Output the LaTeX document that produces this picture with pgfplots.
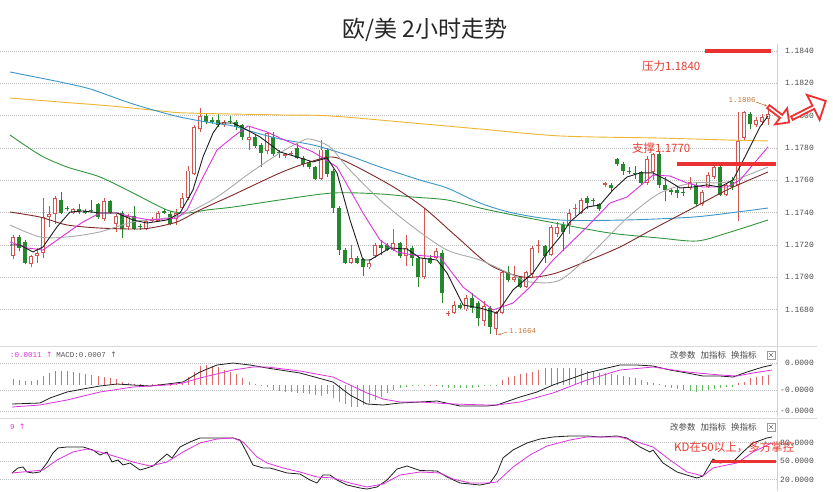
\documentclass[border=0pt]{standalone}
\usepackage{fontspec}
\usepackage{pgfplots}
\usepackage{pgfplotstable}
\pgfplotsset{compat=1.18}
\usetikzlibrary{shapes.arrows,arrows.meta}
\setmainfont{Liberation Sans}
\setmonofont{Liberation Mono}
\newfontfamily\cjk{Noto Sans CJK SC}
\newfontfamily\dv{DejaVu Sans}
\definecolor{upc}{RGB}{210,85,80}
\definecolor{dnc}{RGB}{38,135,45}
\definecolor{ma5}{RGB}{30,30,30}
\definecolor{mag}{RGB}{220,50,220}
\definecolor{ma20}{RGB}{170,170,170}
\definecolor{ma30}{RGB}{130,40,40}
\definecolor{ma60}{RGB}{60,150,200}
\definecolor{ma120}{RGB}{240,180,50}
\definecolor{magr}{RGB}{50,150,60}
\definecolor{hred}{RGB}{225,105,105}
\definecolor{hgrn}{RGB}{95,185,95}
\definecolor{annred}{RGB}{230,60,50}
\definecolor{linered}{RGB}{235,50,50}
\definecolor{lblor}{RGB}{205,120,55}

\pgfplotstableread{
x t o h l c
13 1 1.1713 1.1726 1.1711 1.1725
19 0 1.1725 1.1726 1.1716 1.1718
25 0 1.1722 1.1723 1.1708 1.1709
31 1 1.1708 1.1714 1.1706 1.1713
37 1 1.1713 1.1718 1.1709 1.1715
43 1 1.1715 1.1749 1.1712 1.1737
49 1 1.1737 1.1744 1.1731 1.1739
55 1 1.1739 1.1750 1.1733 1.1749
61 0 1.1748 1.1753 1.1739 1.1740
67 0 1.1743 1.1744 1.1741 1.1742
73 1 1.1740 1.1743 1.1739 1.1742
79 0 1.1742 1.1745 1.1739 1.1741
85 0 1.1741 1.1742 1.1739 1.1740
91 0 1.17415 1.1748 1.1740 1.1741
98 0 1.1745 1.1746 1.1736 1.1737
104 1 1.1736 1.1749 1.1735 1.1747
110 0 1.1747 1.1748 1.1739 1.1740
116 1 1.1733 1.1739 1.1728 1.1738
122 0 1.1740 1.1741 1.1724 1.1730
128 1 1.1731 1.1739 1.1729 1.1738
134 0 1.1738 1.1744 1.1729 1.1730
140 0 1.17315 1.1733 1.1729 1.1731
146 1 1.1730 1.1736 1.1729 1.1735
152 1 1.1735 1.1737 1.1734 1.1736
158 1 1.1735 1.1741 1.1734 1.1740
164 0 1.1741 1.1742 1.1739 1.1740
170 0 1.1739 1.1741 1.1732 1.1733
176 1 1.1736 1.1742 1.1732 1.1740
182 1 1.1743 1.1752 1.1742 1.1749
188 1 1.1749 1.1769 1.1748 1.1766
194 1 1.1764 1.1794 1.1763 1.1793
200 1 1.1792 1.1805 1.1790 1.1800
206 0 1.1800 1.1801 1.1795 1.1796
212 0 1.1797 1.1799 1.1795 1.1796
218 0 1.1797 1.1801 1.1793 1.1794
224 1 1.1794 1.1797 1.1793 1.1796
230 0 1.17965 1.1800 1.1795 1.1796
236 0 1.1796 1.1797 1.1791 1.1793
242 0 1.1794 1.1795 1.1785 1.1787
249 1 1.1785 1.1793 1.1779 1.1787
255 0 1.1787 1.1788 1.1780 1.1781
261 0 1.1782 1.1783 1.1768 1.1777
267 1 1.1778 1.1790 1.1776 1.1789
273 0 1.1787 1.1790 1.1775 1.1776
279 0 1.17775 1.1779 1.1774 1.1777
285 1 1.1775 1.1777 1.1774 1.1776
291 1 1.1776 1.1778 1.1775 1.1777
297 0 1.1780 1.1783 1.1773 1.1774
303 0 1.1774 1.1775 1.1768 1.1770
309 0 1.1771 1.1772 1.1767 1.1768
315 0 1.1768 1.1769 1.1760 1.1761
321 1 1.1761 1.1785 1.1760 1.1779
327 0 1.1779 1.1780 1.1762 1.1764
333 0 1.1766 1.1767 1.1740 1.1743
339 0 1.1743 1.1744 1.1714 1.1717
345 0 1.1717 1.1718 1.1708 1.1709
351 1 1.1709 1.1720 1.1708 1.1712
357 0 1.1712 1.1713 1.1708 1.1709
363 0 1.1711 1.1712 1.1701 1.1706
369 1 1.1706 1.1711 1.1705 1.1709
375 1 1.1713 1.1721 1.1712 1.1720
381 0 1.1720 1.1723 1.1714 1.1718
387 0 1.1720 1.1721 1.1716 1.1717
393 1 1.1717 1.1730 1.1716 1.1721
400 0 1.1721 1.1722 1.1712 1.1713
406 1 1.1713 1.1726 1.1707 1.1718
412 0 1.1718 1.1719 1.1707 1.1712
418 0 1.1712 1.1713 1.1694 1.1700
424 1 1.1700 1.1743 1.1699 1.1712
430 0 1.1712 1.1714 1.1708 1.1709
436 1 1.1712 1.1718 1.1711 1.1716
442 0 1.1715 1.1717 1.1684 1.1690
448 1 1.1677 1.1679 1.1676 1.1678
454 1 1.1678 1.1685 1.1677 1.1683
460 0 1.1683 1.1684 1.1680 1.1681
466 1 1.1680 1.1689 1.1679 1.1687
472 0 1.1687 1.1690 1.1678 1.1681
478 0 1.1684 1.1685 1.1670 1.1675
484 1 1.1673 1.1685 1.1670 1.1682
490 0 1.1681 1.1682 1.1665 1.1669
496 1 1.1668 1.1679 1.1664 1.1678
502 1 1.1678 1.1704 1.1677 1.1703
508 0 1.1703 1.1707 1.1697 1.1698
514 1 1.1698 1.1707 1.1697 1.1700
520 0 1.1700 1.1701 1.1693 1.1694
526 1 1.1694 1.1704 1.1693 1.1703
532 1 1.1702 1.1719 1.1700 1.1718
538 1 1.1719 1.1723 1.1715 1.1720
545 0 1.1719 1.1720 1.1709 1.1713
551 1 1.1714 1.1732 1.1713 1.1731
557 1 1.1727 1.1734 1.1725 1.1731
563 0 1.1732 1.1734 1.1716 1.1728
569 1 1.1732 1.1742 1.1727 1.1740
575 1 1.1742 1.1745 1.1738 1.1743
581 1 1.1740 1.1749 1.1739 1.1748
587 0 1.1749 1.1750 1.1742 1.1746
593 0 1.17475 1.1749 1.1744 1.1747
599 0 1.1745 1.1746 1.1741 1.1742
605 1 1.1757 1.1759 1.1756 1.1758
611 0 1.1757 1.1758 1.1753 1.1755
617 0 1.1773 1.1774 1.1769 1.1770
623 0 1.1770 1.1771 1.1763 1.1766
629 0 1.1766 1.1768 1.1764 1.1765
635 0 1.17645 1.1769 1.1761 1.1764
641 0 1.1765 1.1766 1.1757 1.1758
647 1 1.1758 1.1775 1.1757 1.1773
653 1 1.1765 1.1777 1.1760 1.1776
659 0 1.1776 1.1778 1.1755 1.1757
665 0 1.1757 1.1762 1.1747 1.1754
671 0 1.1754 1.1755 1.1751 1.1753
677 0 1.1754 1.1756 1.1749 1.1752
683 0 1.1753 1.1755 1.1750 1.1752
690 1 1.1755 1.1762 1.1754 1.1759
696 0 1.1757 1.1759 1.1744 1.1745
702 1 1.1745 1.1754 1.1744 1.1753
708 1 1.1756 1.1765 1.1755 1.1763
714 1 1.1762 1.1770 1.1761 1.1768
720 0 1.1768 1.1771 1.1750 1.1751
726 1 1.1751 1.1758 1.1750 1.1757
732 0 1.1759 1.1762 1.1754 1.1756
738 1 1.1757 1.1802 1.1735 1.1784
744 1 1.1786 1.1803 1.1785 1.1802
750 0 1.1801 1.1802 1.1792 1.1795
756 1 1.1794 1.1799 1.1793 1.1797
762 1 1.1796 1.1801 1.1794 1.1799
768 1 1.1798 1.1806 1.1794 1.1801
}\candles

\pgfplotsset{panel/.style={scale only axis, width=777pt, xmin=0, xmax=777,
  hide x axis, axis y line*=right, y axis line style={draw=black!18, line width=0.8pt},
  major tick length=0pt, ymajorgrids,
  grid style={dash pattern=on 0.8pt off 1.2pt, black!25, line width=0.7pt},
  yticklabel style={font=\ttfamily\fontsize{8}{8}\selectfont, text=black!70, anchor=east, inner sep=0pt, xshift=37pt},
  clip mode=individual}}

\begin{document}
\begin{tikzpicture}
\path[use as bounding box] (0pt,0pt) rectangle (833pt,-491pt);
\fill[white] (0pt,0pt) rectangle (833pt,-491pt);

% ---------------- main price panel ----------------
\begin{axis}[panel, at={(0pt,-346pt)}, anchor=south west, height=302pt,
  ymin=1.16574, ymax=1.18443,
  ytick={1.168,1.170,1.172,1.174,1.176,1.178,1.180,1.182,1.184},
  yticklabels={1.1680,1.1700,1.1720,1.1740,1.1760,1.1780,1.1800,1.1820,1.1840}]
% wicks
\addplot[upc, line width=1pt, -, quiver={u=0, v=\thisrow{h}-\thisrow{l}},
  restrict expr to domain={\thisrow{t}}{1:1}] table[x=x, y=l] {\candles};
\addplot[dnc, line width=1pt, -, quiver={u=0, v=\thisrow{h}-\thisrow{l}},
  restrict expr to domain={\thisrow{t}}{0:0}] table[x=x, y=l] {\candles};
% bodies
\addplot[dnc, line width=4.4pt, -, quiver={u=0, v=\thisrow{c}-\thisrow{o}},
  restrict expr to domain={\thisrow{t}}{0:0}] table[x=x, y=o] {\candles};
\addplot[upc, line width=4.4pt, -, quiver={u=0, v=\thisrow{c}-\thisrow{o}},
  restrict expr to domain={\thisrow{t}}{1:1}] table[x=x, y=o] {\candles};
\addplot[white, line width=2.4pt, -, quiver={u=0, v={max(\thisrow{c}-\thisrow{o}-0.00012,0)}},
  restrict expr to domain={\thisrow{t}}{1:1}] table[x=x, y expr=\thisrow{o}+0.00006] {\candles};
% moving averages
\addplot[ma120, line width=0.9pt, smooth] coordinates {(10,1.18109) (60,1.18084) (110,1.1806) (160,1.18029) (187,1.18016) (280,1.18004) (330,1.17998) (413,1.17954) (480,1.17917) (560,1.17874) (660,1.17861) (727,1.17849) (768,1.17843)};
\addplot[ma60, line width=0.9pt, smooth] coordinates {(10,1.1827) (40,1.18233) (60,1.18208) (90,1.18165) (127,1.18084) (153,1.18035) (180,1.17991) (207,1.1796) (233,1.17936) (253,1.17899) (280,1.17855) (313,1.17818) (347,1.17756) (380,1.17682) (420,1.17601) (447,1.17552) (480,1.17459) (513,1.17397) (560,1.17354) (627,1.17354) (693,1.17372) (737,1.17403) (768,1.17428)};
\addplot[magr, line width=0.9pt, smooth] coordinates {(10,1.1788) (40,1.17756) (67,1.17682) (100,1.1762) (133,1.17521) (167,1.17416) (187,1.17397) (207,1.17416) (233,1.17434) (280,1.17478) (333,1.17521) (380,1.17515) (413,1.17496) (447,1.17478) (480,1.17428) (513,1.17385) (560,1.17329) (610,1.17273) (660,1.17242) (697,1.17224) (727,1.17273) (768,1.17354)};
\addplot[ma30, line width=0.9pt, smooth] coordinates {(10,1.17403) (40,1.17372) (67,1.17323) (100,1.17304) (133,1.17298) (150,1.17304) (177,1.17342) (200,1.17416) (233,1.17509) (280,1.17645) (307,1.17707) (330,1.17744) (347,1.17713) (390,1.17571) (423,1.17434) (457,1.17249) (490,1.17075) (523,1.17001) (553,1.1702) (587,1.171) (620,1.17187) (653,1.17298) (693,1.17428) (727,1.1754) (768,1.17651)};
\addplot[ma20, line width=0.9pt, smooth] coordinates {(10,1.17323) (40,1.17249) (67,1.17249) (100,1.1728) (133,1.17342) (167,1.17366) (187,1.17397) (217,1.17496) (250,1.17645) (280,1.17769) (300,1.17837) (310,1.17855) (330,1.17806) (347,1.17682) (380,1.17478) (413,1.17311) (447,1.17168) (480,1.17106) (513,1.17013) (530,1.1697) (560,1.16982) (593,1.17156) (627,1.17366) (660,1.17521) (693,1.17583) (727,1.17589) (768,1.17682)};
\addplot[mag, line width=0.9pt] coordinates {(10,1.17218) (27,1.17181) (43,1.17168) (67,1.17273) (83,1.17342) (100,1.17397) (117,1.17397) (133,1.17372) (150,1.17354) (177,1.17366) (187,1.17416) (200,1.17583) (217,1.17787) (233,1.17868) (248,1.17936) (267,1.17899) (280,1.17861) (313,1.17775) (337,1.17682) (363,1.17397) (380,1.1723) (397,1.17156) (413,1.17137) (440,1.17125) (463,1.16939) (493,1.16797) (513,1.1684) (530,1.16939) (553,1.17106) (587,1.17311) (610,1.17459) (627,1.17496) (653,1.17632) (670,1.17626) (687,1.17583) (703,1.17558) (727,1.17558) (740,1.17601) (768,1.17806)};
\addplot[ma5, line width=0.9pt] coordinates {(10,1.17199) (20,1.17199) (33,1.17156) (43,1.17187) (57,1.17311) (70,1.17403) (83,1.1741) (100,1.17397) (117,1.17397) (133,1.17354) (147,1.17335) (167,1.17354) (180,1.17397) (193,1.1754) (203,1.17744) (213,1.17892) (220,1.17954) (233,1.17954) (247,1.17911) (260,1.17868) (280,1.17775) (297,1.17744) (313,1.17713) (327,1.17738) (337,1.17645) (350,1.17354) (363,1.17106) (370,1.17106) (390,1.17181) (407,1.17174) (420,1.17119) (437,1.17106) (447,1.17026) (463,1.16828) (480,1.16809) (497,1.16778) (513,1.16921) (533,1.17026) (547,1.1715) (560,1.17249) (570,1.17342) (587,1.17434) (600,1.17447) (613,1.1754) (627,1.1762) (640,1.17645) (653,1.17645) (667,1.17601) (680,1.17552) (693,1.17558) (707,1.17571) (720,1.17558) (733,1.17601) (747,1.17769) (760,1.1793) (768,1.17998)};
% resistance / support
\addplot[linered, line width=3.8pt] coordinates {(705,1.1840) (771,1.1840)};
\addplot[linered, line width=3.8pt] coordinates {(677,1.1770) (776,1.1770)};
\end{axis}

% ---------------- MACD panel ----------------
\begin{axis}[panel, at={(0pt,-417pt)}, anchor=south west, height=71pt,
  ymin=-22.4, ymax=27.3, ytick={-18.2,-3.5,15.4}, yticklabels={-0.0000,-0.0000,0.0000}]
\addplot[ycomb, draw=hred, line width=1pt] coordinates {(13,4.0) (19,3.5) (25,2.8) (31,3.0) (37,3.5) (43,6.3) (49,8.6) (55,10.0) (61,10.0) (67,9.8) (73,9.3) (79,8.6) (85,7.7) (91,7.0) (98,6.3) (104,5.8) (110,4.7) (116,4.0) (122,2.3) (128,1.6) (134,0.7) (140,0.4) (146,0.3) (152,0.4) (158,0.5) (164,0.4) (170,0.3) (176,0.5) (182,1.5) (188,5.8) (194,9.3) (200,13.3) (206,14.0) (212,13.3) (218,12.4) (224,10.5) (230,9.3) (236,7.5) (242,4.7) (249,2.3) (255,0.4) (430,0.3) (436,0.3) (502,3.5) (508,5.4) (514,6.3) (520,7.5) (526,8.2) (532,9.3) (538,10.5) (545,11.7) (551,12.1) (557,12.1) (563,11.7) (569,11.7) (575,11.7) (581,11.0) (587,10.0) (593,9.3) (599,8.6) (605,8.2) (611,7.7) (617,7.0) (623,6.3) (629,5.8) (635,4.7) (641,3.5) (647,2.3) (653,1.6) (659,0.7) (738,1.2) (744,2.3) (750,4.7) (756,5.8) (762,6.3) (768,7.0)};
\addplot[ycomb, draw=hgrn, line width=1pt] coordinates {(261,-0.5) (267,-1.2) (273,-3.5) (279,-4.0) (285,-4.7) (291,-4.7) (297,-5.4) (303,-5.8) (309,-6.5) (315,-7.0) (321,-7.7) (327,-6.3) (333,-9.3) (339,-11.7) (345,-13.3) (351,-15.2) (357,-15.2) (363,-14.0) (369,-12.8) (375,-10.5) (381,-8.2) (387,-5.8) (393,-3.5) (400,-2.3) (406,-1.2) (412,-0.7) (418,-0.5) (424,-0.3) (442,-1.2) (448,-2.3) (454,-2.3) (460,-2.3) (466,-2.3) (472,-1.9) (478,-1.2) (484,-0.7) (490,-0.5) (496,-0.2) (665,-1.2) (671,-2.3) (677,-3.0) (683,-3.5) (690,-4.0) (696,-4.7) (702,-4.0) (708,-3.5) (714,-3.0) (720,-2.3) (726,-1.6) (732,-1.2)};
\addplot[ma5, line width=0.8pt] coordinates {(12,-13.3) (40,-12.6) (50,-9.1) (67,-4.9) (83,-2.8) (100,-0.7) (117,0.7) (133,0) (150,-0.7) (167,0.7) (183,2.1) (200,9.1) (217,14) (233,15.4) (250,14) (267,11.9) (300,8.4) (333,2.1) (350,-7) (367,-13.3) (383,-14) (400,-12.6) (420,-11.9) (437,-11.2) (460,-14.7) (487,-14.7) (497,-14) (520,-8.4) (537,-4.9) (553,0) (570,4.2) (587,8.4) (603,11.2) (620,14) (637,14) (653,13.3) (670,10.5) (687,8.4) (703,6.3) (720,6.3) (733,5.6) (747,9.1) (763,12.6) (772,14)};
\addplot[mag, line width=0.8pt] coordinates {(12,-15.4) (40,-14) (67,-10.5) (100,-4.9) (133,-1.4) (167,0) (183,1.4) (200,4.9) (233,10.5) (253,12.6) (267,12.6) (300,9.8) (333,5.6) (367,-5.6) (383,-9.8) (400,-11.9) (420,-11.9) (453,-13.3) (487,-14) (497,-14) (520,-11.9) (553,-5.6) (587,3.5) (620,10.5) (653,12.6) (687,9.1) (720,7) (737,6.3) (753,8.4) (772,10.5)};
\end{axis}

% ---------------- KD panel ----------------
\begin{axis}[panel, at={(0pt,-491pt)}, anchor=south west, height=72pt,
  ymin=1.4, ymax=118, ytick={20,50,80}, yticklabels={20.0000,50.0000,80.0000}]
\addplot[ma5, line width=0.8pt] coordinates {(12,30.6) (18,38.7) (23,40.3) (27,32.2) (33,30.6) (40,32.2) (47,46.8) (53,63) (58,71.1) (67,72.7) (83,72.7) (93,67.8) (100,59.7) (107,64.6) (112,48.4) (118,51.6) (123,43.5) (130,46.8) (140,35.4) (147,38.7) (153,41.9) (160,51.6) (167,61.3) (172,54.9) (180,72.7) (190,80.8) (200,87.3) (217,87.3) (233,87.3) (240,84) (247,63) (253,43.5) (263,38.7) (270,38.7) (277,35.4) (287,30.6) (300,28.9) (310,19.2) (317,14.4) (323,27.3) (330,27.3) (337,19.2) (347,11.1) (360,6.3) (367,4.6) (377,7.9) (387,19.2) (397,37) (407,41.9) (420,34.6) (437,33.8) (447,24.1) (460,14.4) (480,11.1) (490,14.4) (497,30.6) (503,54.9) (513,67.8) (527,79.2) (540,85.6) (553,88.9) (570,90.5) (587,90.5) (600,88.9) (617,90.5) (627,87.3) (640,72.7) (650,64.6) (653,67.8) (663,46.8) (677,32.2) (690,25.7) (697,22.5) (703,25.7) (713,53.2) (720,46.8) (727,48.4) (733,48.4) (743,64.6) (753,79.2) (767,87.3) (772,88.9)};
\addplot[mag, line width=0.8pt] coordinates {(12,30.6) (33,33.8) (43,35.4) (57,51.6) (73,64.6) (87,69.4) (100,64.6) (117,56.5) (133,48.4) (150,41.9) (167,48.4) (183,64.6) (200,79.2) (217,85.6) (233,87.3) (243,80.8) (257,56.5) (267,46.8) (283,38.7) (300,32.2) (317,24.1) (333,22.5) (350,14.4) (367,7.9) (383,12.7) (400,27.3) (420,32.2) (440,30.6) (453,20.8) (470,14.4) (487,14.4) (497,16) (513,40.3) (530,59.7) (547,74.3) (570,84) (587,88.9) (603,88.9) (620,88.9) (637,80.8) (653,72.7) (670,51.6) (687,32.2) (703,25.7) (713,38.7) (727,43.5) (737,46.8) (753,64.6) (772,79.2)};
\addplot[linered, line width=2.4pt] coordinates {(712,49) (776,49)};
\end{axis}

% separators
\draw[black!15, line width=0.8pt] (0pt,-346pt) -- (817pt,-346pt);
\draw[black!15, line width=0.8pt] (0pt,-418pt) -- (817pt,-418pt);

% title
\node[font=\cjk\fontsize{23}{23}\selectfont, text=black!85] at (425pt,-30pt) {欧/美 2小时走势};

% annotations
\node[anchor=west, inner sep=0pt, font=\cjk\fontsize{11.5}{12}\selectfont, text=annred] at (642pt,-66pt) {压力1.1840};
\node[anchor=west, inner sep=0pt, font=\cjk\fontsize{11.5}{12}\selectfont, text=annred] at (632pt,-148pt) {支撑1.1770};
\node[anchor=west, inner sep=0pt, font=\cjk\fontsize{11.5}{12}\selectfont, text=annred] at (674pt,-447pt) {KD在50以上，多方掌控};

\node[inner sep=0pt, font=\ttfamily\fontsize{7.5}{8}\selectfont, text=lblor] at (742pt,-100pt) {1.1806};
\draw[lblor, line width=0.6pt, -{Stealth[length=3pt,width=2.5pt]}] (756pt,-102pt) -- (767pt,-106pt);
\node[anchor=west, inner sep=0pt, font=\ttfamily\fontsize{7.5}{8}\selectfont, text=lblor] at (509pt,-331pt) {1.1664};
\draw[lblor, line width=0.6pt, -{Stealth[length=3pt,width=2.5pt]}] (507pt,-332pt) -- (498pt,-335pt);

% red hollow block arrows
\node[single arrow, draw=linered, line width=1.8pt, fill=white, minimum height=26pt, minimum width=20pt, single arrow head extend=4pt, inner sep=0pt, rotate=-37] at (778pt,-114pt) {};
\node[single arrow, draw=linered, line width=1.8pt, fill=white, minimum height=38pt, minimum width=28pt, single arrow head extend=6pt, inner sep=0pt, rotate=27] at (808pt,-110pt) {};

% panel headers
\node[anchor=west, inner sep=0pt, font=\ttfamily\fontsize{7.5}{8}\selectfont] at (10pt,-355pt)
  {\textcolor{mag}{:0.0011 {\dv ↑}}\hspace{4pt}\textcolor{black!65}{MACD:0.0007 {\dv ↑}}};
\node[anchor=west, inner sep=0pt, font=\ttfamily\fontsize{7.5}{8}\selectfont] at (10pt,-427pt)
  {\textcolor{mag}{9 {\dv ↑}}};
\foreach \yy in {355,427}{
  \node[anchor=west, inner sep=0pt, font=\cjk\fontsize{8.5}{9}\selectfont, text=black!70] at (670pt,-\yy pt) {改参数\hspace{5pt}加指标\hspace{5pt}换指标};
  \draw[black!40, line width=0.5pt, fill=white] (767pt,-\yy pt+4pt) rectangle (775pt,-\yy pt-4pt);
  \draw[black!55, line width=0.5pt] (769pt,-\yy pt+2pt) -- (773pt,-\yy pt-2pt) (773pt,-\yy pt+2pt) -- (769pt,-\yy pt-2pt);
}
\end{tikzpicture}
\end{document}
